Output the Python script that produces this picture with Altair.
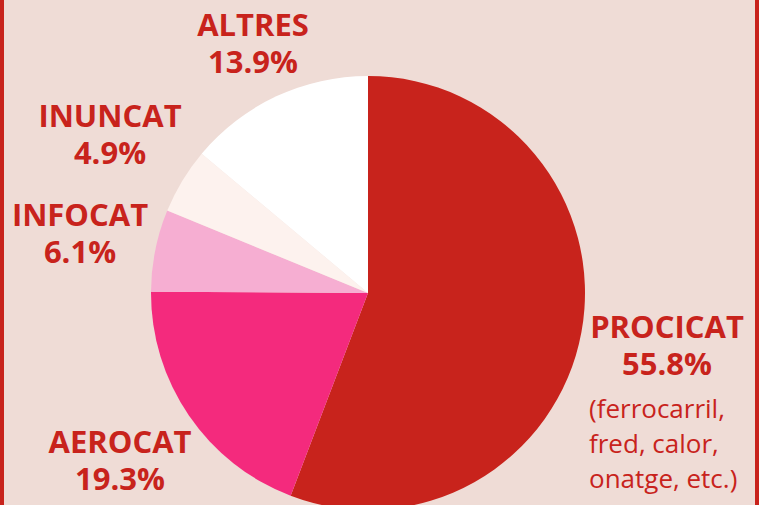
import altair as alt
import pandas as pd

categories = ["PROCICAT", "AEROCAT", "INFOCAT", "INUNCAT", "ALTRES"]
shares = [55.8, 19.3, 6.1, 4.9, 13.9]
pct_labels = ["55.8%", "19.3%", "6.1%", "4.9%", "13.9%"]
colors = ["#c8231c", "#f42a7d", "#f6aed2", "#fdf2ee", "#ffffff"]
note_lines = ["(ferrocarril,", "fred, calor,", "onatge, etc.)"]

# layout (pixel positions of label blocks; style, not data)
label_x = [667, 120, 80, 110, 253]
label_y = [338, 453, 226, 127, 36]
note_x = 589
note_y = [418, 453, 488]

RED = "#c8231c"
BG = "#efdcd6"
W, H = 759, 505
CX, CY, R = 368, 293, 217

df = pd.DataFrame({"cat": categories, "share": shares, "order": list(range(5))})

pie = alt.Chart(df).mark_arc(radius=R, stroke=None).encode(
    theta=alt.Theta("share:Q", stack=True),
    order=alt.Order("order:Q"),
    color=alt.Color("cat:N", scale=alt.Scale(domain=categories, range=colors), legend=None),
    x=alt.value(CX),
    y=alt.value(CY),
)

lab = pd.DataFrame({"cat": categories, "pct": pct_labels, "lx": label_x, "ly": label_y,
                    "ly2": [v + 37 for v in label_y]})

names = alt.Chart(lab).mark_text(font="Open Sans", fontWeight="bold", fontSize=31,
                                 color=RED, align="center", baseline="alphabetic").encode(
    x=alt.X("lx:Q", scale=None), y=alt.Y("ly:Q", scale=None), text="cat:N")
pcts = alt.Chart(lab).mark_text(font="Open Sans", fontWeight="bold", fontSize=31,
                                color=RED, align="center", baseline="alphabetic").encode(
    x=alt.X("lx:Q", scale=None), y=alt.Y("ly2:Q", scale=None), text="pct:N")

notes_df = pd.DataFrame({"t": note_lines, "nx": [note_x] * 3, "ny": note_y})
notes = alt.Chart(notes_df).mark_text(font="Open Sans", fontSize=26, color=RED,
                                      align="left", baseline="alphabetic").encode(
    x=alt.X("nx:Q", scale=None), y=alt.Y("ny:Q", scale=None), text="t:N")

borders = alt.Chart(pd.DataFrame({"bx": [2, W - 2]})).mark_rule(color=RED, strokeWidth=4).encode(
    x=alt.X("bx:Q", scale=None), y=alt.value(0), y2=alt.value(H))

chart = alt.layer(pie, names, pcts, notes, borders).properties(
    width=W, height=H, background=BG, padding=0, autosize=alt.AutoSizeParams(type="none")
).configure_view(stroke=None)

chart.save("out.html", embed_options={"renderer": "svg", "actions": False})
